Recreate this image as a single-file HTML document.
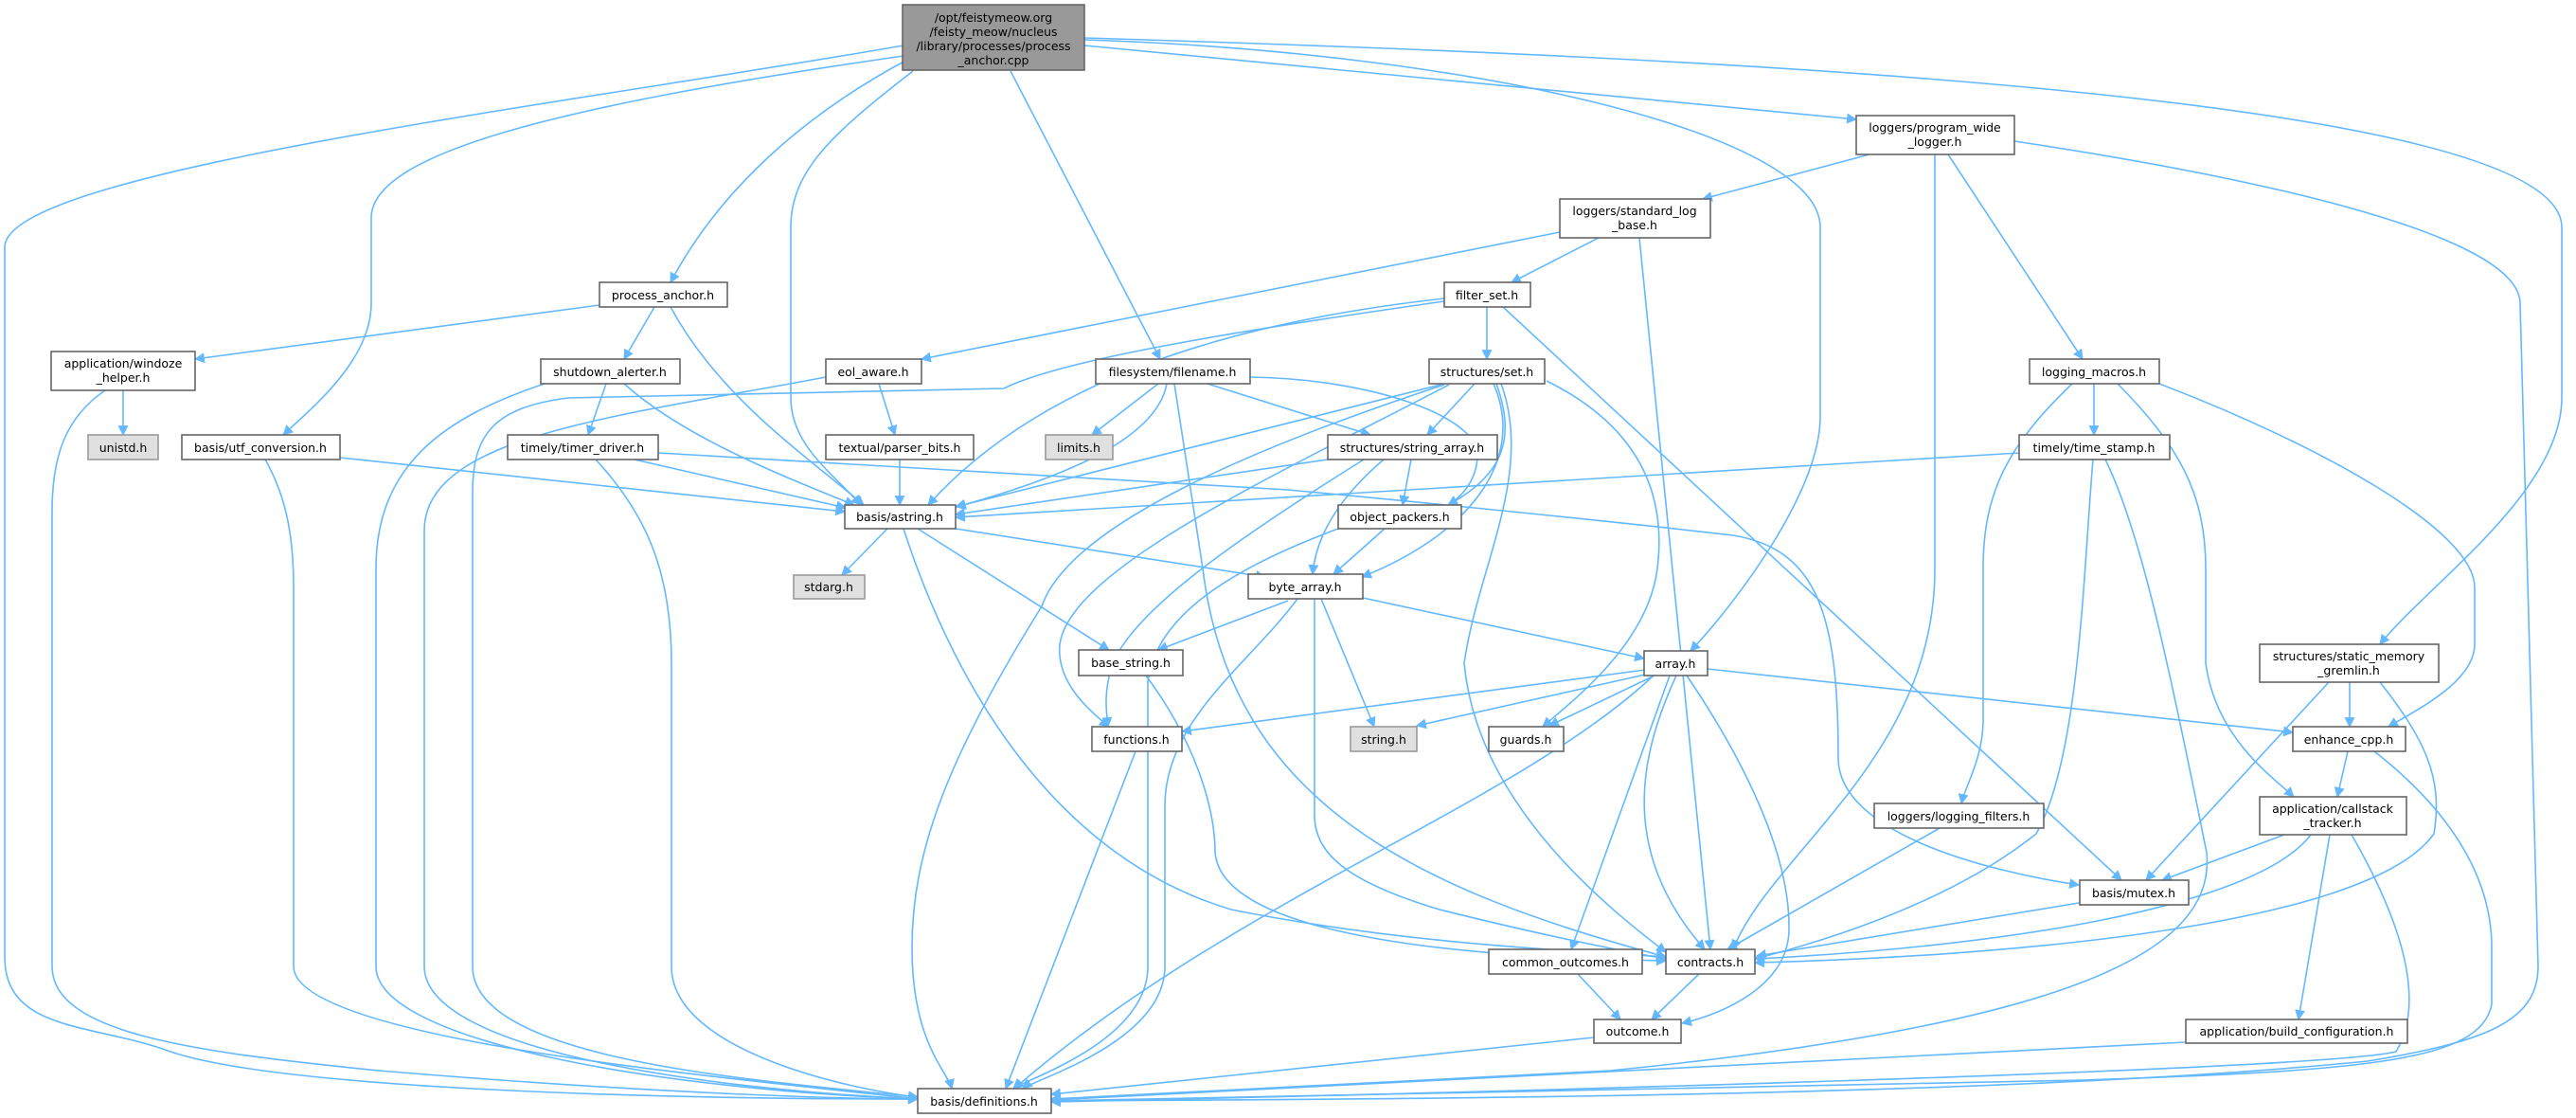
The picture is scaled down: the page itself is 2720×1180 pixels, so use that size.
<!DOCTYPE html>
<html><head><meta charset="utf-8"><style>
html,body{margin:0;padding:0;background:#fff;width:2720px;height:1180px;overflow:hidden}
svg{display:block}
.e{fill:none;stroke:#63b8ff;stroke-width:1.6}
.n{fill:#fff;stroke:#666;stroke-width:1.6}
.g{fill:#e0e0e0;stroke:#999;stroke-width:1.6}
text{font-family:"DejaVu Sans","Liberation Sans",sans-serif;font-size:12.5px;fill:#000;text-anchor:middle}
</style></head><body>
<svg width="2720" height="1180" viewBox="0 0 2720 1180" xmlns="http://www.w3.org/2000/svg">
<defs><marker id="a" viewBox="0 0 10 10" refX="9" refY="5" markerWidth="11" markerHeight="11" markerUnits="userSpaceOnUse" orient="auto"><path d="M0,0 L10,5 L0,10 z" fill="#63b8ff"/></marker></defs>
<g class="e" marker-end="url(#a)">
<!-- root -->
<path d="M954,48 C600,110 10,180 5,260 L5,1010 C5,1090 100,1080 180,1110 C300,1150 700,1160 969,1160"/>
<path d="M954,59 C600,110 392,160 392,230 L392,320 C392,380 330,430 299,459"/>
<path d="M960,62 C850,120 760,200 708,298"/>
<path d="M964,75 C880,140 835,180 835,240 L835,420 C835,470 880,500 909,533"/>
<path d="M1067,75 L1225,379"/>
<path d="M1145,42 C1550,55 1922,140 1922,240 L1922,440 C1922,520 1830,640 1785,687"/>
<path d="M1145,48 L1960,126"/>
<path d="M1145,40 C1800,60 2705,100 2705,240 L2705,420 C2705,520 2560,620 2513,680"/>
<!-- program_wide_logger -->
<path d="M1974,163 L1798,210"/>
<path d="M2043,163 L2043,600 C2043,800 1870,900 1830,1002"/>
<path d="M2057,163 L2199,379"/>
<path d="M2127,149 C2400,190 2660,250 2661,320 L2680,1020 C2680,1080 2620,1100 2500,1120 C2100,1160 1400,1160 1110,1162"/>
<!-- standard_log_base -->
<path d="M1647,245 L973,379"/>
<path d="M1688,251 L1596,298"/>
<path d="M1731,251 L1806,1002"/>
<!-- filter_set -->
<path d="M1525,315 C1300,340 1100,400 980,533"/>
<path d="M1525,318 C1300,350 1120,380 1060,410 L600,420 C520,430 499,460 499,520 L499,1020 C499,1120 800,1140 969,1158"/>
<path d="M1570,324 L1570,379"/>
<path d="M1587,324 L2240,929"/>
<!-- process_anchor -->
<path d="M633,322 L206,379"/>
<path d="M691,324 L659,379"/>
<path d="M708,324 C760,420 850,480 912,533"/>
<!-- windoze -->
<path d="M130,412 L130,459"/>
<path d="M111,412 C70,440 55,480 55,540 L55,1020 C55,1090 200,1110 400,1130 C700,1155 900,1160 969,1160"/>
<!-- shutdown -->
<path d="M640,405 L621,459"/>
<path d="M659,405 C720,460 820,500 902,533"/>
<path d="M575,405 C470,440 397,490 397,600 L397,1020 C397,1100 700,1150 969,1160"/>
<!-- eol_aware -->
<path d="M928,405 L945,459"/>
<path d="M872,398 C650,440 448,460 448,560 L448,1020 C448,1110 750,1150 969,1160"/>
<!-- filename -->
<path d="M1223,405 L1153,459"/>
<path d="M1232,405 C1220,470 1100,510 1010,535"/>
<path d="M1275,405 L1447,459"/>
<path d="M1240,405 L1270,600 C1300,850 1500,940 1759,1010"/>
<path d="M1320,398 C1450,400 1560,440 1560,480 C1560,500 1550,520 1529,533"/>
<!-- set.h -->
<path d="M1557,405 L1507,459"/>
<path d="M1525,405 L1009,535"/>
<path d="M1580,405 C1600,460 1590,500 1529,533"/>
<path d="M1577,405 C1610,480 1560,560 1438,609"/>
<path d="M1633,402 C1730,450 1760,520 1750,600 C1740,680 1660,740 1629,767"/>
<path d="M1585,405 C1620,500 1560,600 1546,700 C1560,850 1700,960 1759,1005"/>
<path d="M1525,406 C1300,480 1127,560 1100,640 C1000,800 963,900 963,1000 C963,1100 1000,1130 1005,1149"/>
<path d="M1530,406 C1350,500 1130,600 1119,680 C1115,720 1150,750 1171,767"/>
<!-- logging_macros -->
<path d="M2211,405 L2211,459"/>
<path d="M2188,405 C2120,470 2094,520 2094,600 L2094,760 C2094,800 2075,830 2071,848"/>
<path d="M2236,405 C2300,470 2329,520 2329,600 L2329,700 C2340,780 2400,820 2422,841"/>
<path d="M2280,405 C2450,470 2613,560 2613,620 L2613,680 C2613,720 2550,750 2522,767"/>
<!-- utf_conversion -->
<path d="M359,483 L892,540"/>
<path d="M280,485 C300,520 310,560 310,620 L310,1020 C310,1100 800,1140 969,1160"/>
<!-- timer_driver -->
<path d="M670,485 L893,536"/>
<path d="M695,478 L1360,517 C1500,530 1700,550 1830,565 C1920,580 1941,650 1941,800 C1941,880 2100,920 2195,934"/>
<path d="M629,485 C680,540 709,600 709,700 L709,1020 C709,1110 900,1150 969,1158"/>
<!-- parser_bits -->
<path d="M950,485 L950,533"/>
<!-- string_array -->
<path d="M1402,485 L1009,543"/>
<path d="M1490,485 L1481,533"/>
<path d="M1461,485 C1420,520 1390,560 1386,606"/>
<path d="M1440,485 C1320,560 1200,640 1175,700 C1165,730 1168,750 1170,767"/>
<!-- time_stamp -->
<path d="M2132,478 L1009,546"/>
<path d="M2210,485 C2200,600 2196,800 2150,880 C2050,960 1900,1000 1853,1012"/>
<path d="M2223,485 C2260,560 2290,700 2330,900 C2340,1000 2200,1080 1700,1130 L1110,1160"/>
<!-- astring -->
<path d="M937,558 L889,607"/>
<path d="M1009,558 L1336,609"/>
<path d="M969,558 L1171,686"/>
<path d="M954,558 C1000,700 1100,900 1300,960 C1500,1000 1700,1005 1759,1010"/>
<!-- object_packers -->
<path d="M1462,558 L1408,606"/>
<path d="M1413,558 C1300,600 1220,650 1212,720 L1212,1020 C1212,1100 1080,1140 1070,1149"/>
<!-- byte_array -->
<path d="M1360,634 L1223,686"/>
<path d="M1395,632 L1451,767"/>
<path d="M1439,631 L1736,695"/>
<path d="M1388,632 L1388,860 C1388,900 1420,930 1520,960 C1640,990 1720,1005 1759,1012"/>
<path d="M1370,632 C1320,700 1230,760 1230,850 L1230,1020 C1230,1100 1090,1140 1080,1149"/>
<!-- base_string -->
<path d="M1210,713 C1260,780 1283,850 1283,900 C1290,980 1500,1010 1759,1014"/>
<!-- array -->
<path d="M1737,707 L1248,772"/>
<path d="M1737,712 L1496,766"/>
<path d="M1745,714 L1636,766"/>
<path d="M1803,706 L2421,773"/>
<path d="M1763,713 L1659,1002"/>
<path d="M1781,713 C1840,800 1890,900 1889,980 C1889,1040 1820,1070 1776,1080"/>
<path d="M1746,713 C1600,850 1300,950 1071,1149"/>
<path d="M1770,713 C1730,800 1710,900 1800,1002"/>
<!-- gremlin -->
<path d="M2481,720 L2481,767"/>
<path d="M2459,720 L2266,929"/>
<path d="M2513,720 C2560,780 2580,820 2570,880 C2500,980 2100,1010 1853,1016"/>
<!-- enhance -->
<path d="M2479,793 L2468,841"/>
<path d="M2507,793 C2580,850 2631,920 2631,1000 L2631,1060 C2620,1120 2500,1130 2200,1140 L1110,1162"/>
<!-- logging_filters -->
<path d="M2048,874 L1824,1002"/>
<!-- callstack -->
<path d="M2412,881 L2283,929"/>
<path d="M2440,881 C2380,960 2100,1000 1853,1012"/>
<path d="M2460,881 L2427,1076"/>
<path d="M2483,881 C2540,980 2560,1060 2530,1110 C2450,1130 1500,1155 1110,1163"/>
<!-- mutex -->
<path d="M2195,953 L1855,1009"/>
<!-- bottom -->
<path d="M1666,1028 L1711,1076"/>
<path d="M1794,1028 L1744,1076"/>
<path d="M1683,1095 L1110,1155"/>
<path d="M2308,1100 L1110,1161"/>
<path d="M1199,793 L1062,1149"/>
</g>
<!-- nodes -->
<rect x="953" y="5" width="192" height="69" fill="#999" stroke="#666" stroke-width="1.6"/>
<text x="1049" y="23">/opt/feistymeow.org</text>
<text x="1049" y="38">/feisty_meow/nucleus</text>
<text x="1049" y="53">/library/processes/process</text>
<text x="1049" y="68">_anchor.cpp</text>

<rect class="n" x="1960" y="122" width="167" height="41"/><text x="2043" y="139">loggers/program_wide</text><text x="2043" y="154">_logger.h</text>
<rect class="n" x="1647" y="210" width="159" height="41"/><text x="1726" y="227">loggers/standard_log</text><text x="1726" y="242">_base.h</text>
<rect class="n" x="1525" y="298" width="91" height="26"/><text x="1570" y="316">filter_set.h</text>
<rect class="n" x="633" y="298" width="135" height="26"/><text x="700" y="316">process_anchor.h</text>
<rect class="n" x="54" y="371" width="152" height="41"/><text x="130" y="388">application/windoze</text><text x="130" y="403">_helper.h</text>
<rect class="n" x="571" y="379" width="147" height="26"/><text x="644" y="397">shutdown_alerter.h</text>
<rect class="n" x="872" y="379" width="101" height="26"/><text x="922" y="397">eol_aware.h</text>
<rect class="n" x="1157" y="379" width="163" height="26"/><text x="1238" y="397">filesystem/filename.h</text>
<rect class="n" x="1509" y="379" width="122" height="26"/><text x="1570" y="397">structures/set.h</text>
<rect class="n" x="2143" y="379" width="137" height="26"/><text x="2211" y="397">logging_macros.h</text>
<rect class="g" x="93" y="459" width="74" height="26"/><text x="130" y="477">unistd.h</text>
<rect class="n" x="192" y="459" width="167" height="26"/><text x="275" y="477">basis/utf_conversion.h</text>
<rect class="n" x="536" y="459" width="159" height="26"/><text x="615" y="477">timely/timer_driver.h</text>
<rect class="n" x="872" y="459" width="156" height="26"/><text x="950" y="477">textual/parser_bits.h</text>
<rect class="g" x="1104" y="459" width="71" height="26"/><text x="1139" y="477">limits.h</text>
<rect class="n" x="1402" y="459" width="179" height="26"/><text x="1491" y="477">structures/string_array.h</text>
<rect class="n" x="2132" y="459" width="159" height="26"/><text x="2211" y="477">timely/time_stamp.h</text>
<rect class="n" x="892" y="533" width="117" height="25"/><text x="950" y="550">basis/astring.h</text>
<rect class="n" x="1413" y="533" width="130" height="25"/><text x="1478" y="550">object_packers.h</text>
<rect class="g" x="838" y="607" width="75" height="25"/><text x="875" y="624">stdarg.h</text>
<rect class="n" x="1318" y="606" width="121" height="26"/><text x="1378" y="624">byte_array.h</text>
<rect class="n" x="1139" y="686" width="110" height="27"/><text x="1194" y="704">base_string.h</text>
<rect class="n" x="1736" y="687" width="67" height="26"/><text x="1769" y="705">array.h</text>
<rect class="n" x="2386" y="680" width="189" height="40"/><text x="2480" y="697">structures/static_memory</text><text x="2480" y="712">_gremlin.h</text>
<rect class="n" x="1153" y="767" width="95" height="26"/><text x="1200" y="785">functions.h</text>
<rect class="g" x="1426" y="767" width="70" height="26"/><text x="1461" y="785">string.h</text>
<rect class="n" x="1572" y="767" width="79" height="26"/><text x="1611" y="785">guards.h</text>
<rect class="n" x="2421" y="767" width="119" height="26"/><text x="2480" y="785">enhance_cpp.h</text>
<rect class="n" x="1979" y="848" width="179" height="26"/><text x="2068" y="866">loggers/logging_filters.h</text>
<rect class="n" x="2386" y="841" width="155" height="40"/><text x="2463" y="858">application/callstack</text><text x="2463" y="873">_tracker.h</text>
<rect class="n" x="2196" y="929" width="115" height="26"/><text x="2253" y="947">basis/mutex.h</text>
<rect class="n" x="1572" y="1002" width="162" height="26"/><text x="1653" y="1020">common_outcomes.h</text>
<rect class="n" x="1759" y="1002" width="94" height="26"/><text x="1806" y="1020">contracts.h</text>
<rect class="n" x="1683" y="1076" width="92" height="25"/><text x="1729" y="1093">outcome.h</text>
<rect class="n" x="2308" y="1076" width="234" height="25"/><text x="2425" y="1093">application/build_configuration.h</text>
<rect class="n" x="969" y="1149" width="141" height="26"/><text x="1039" y="1167">basis/definitions.h</text>
</svg>
</body></html>
